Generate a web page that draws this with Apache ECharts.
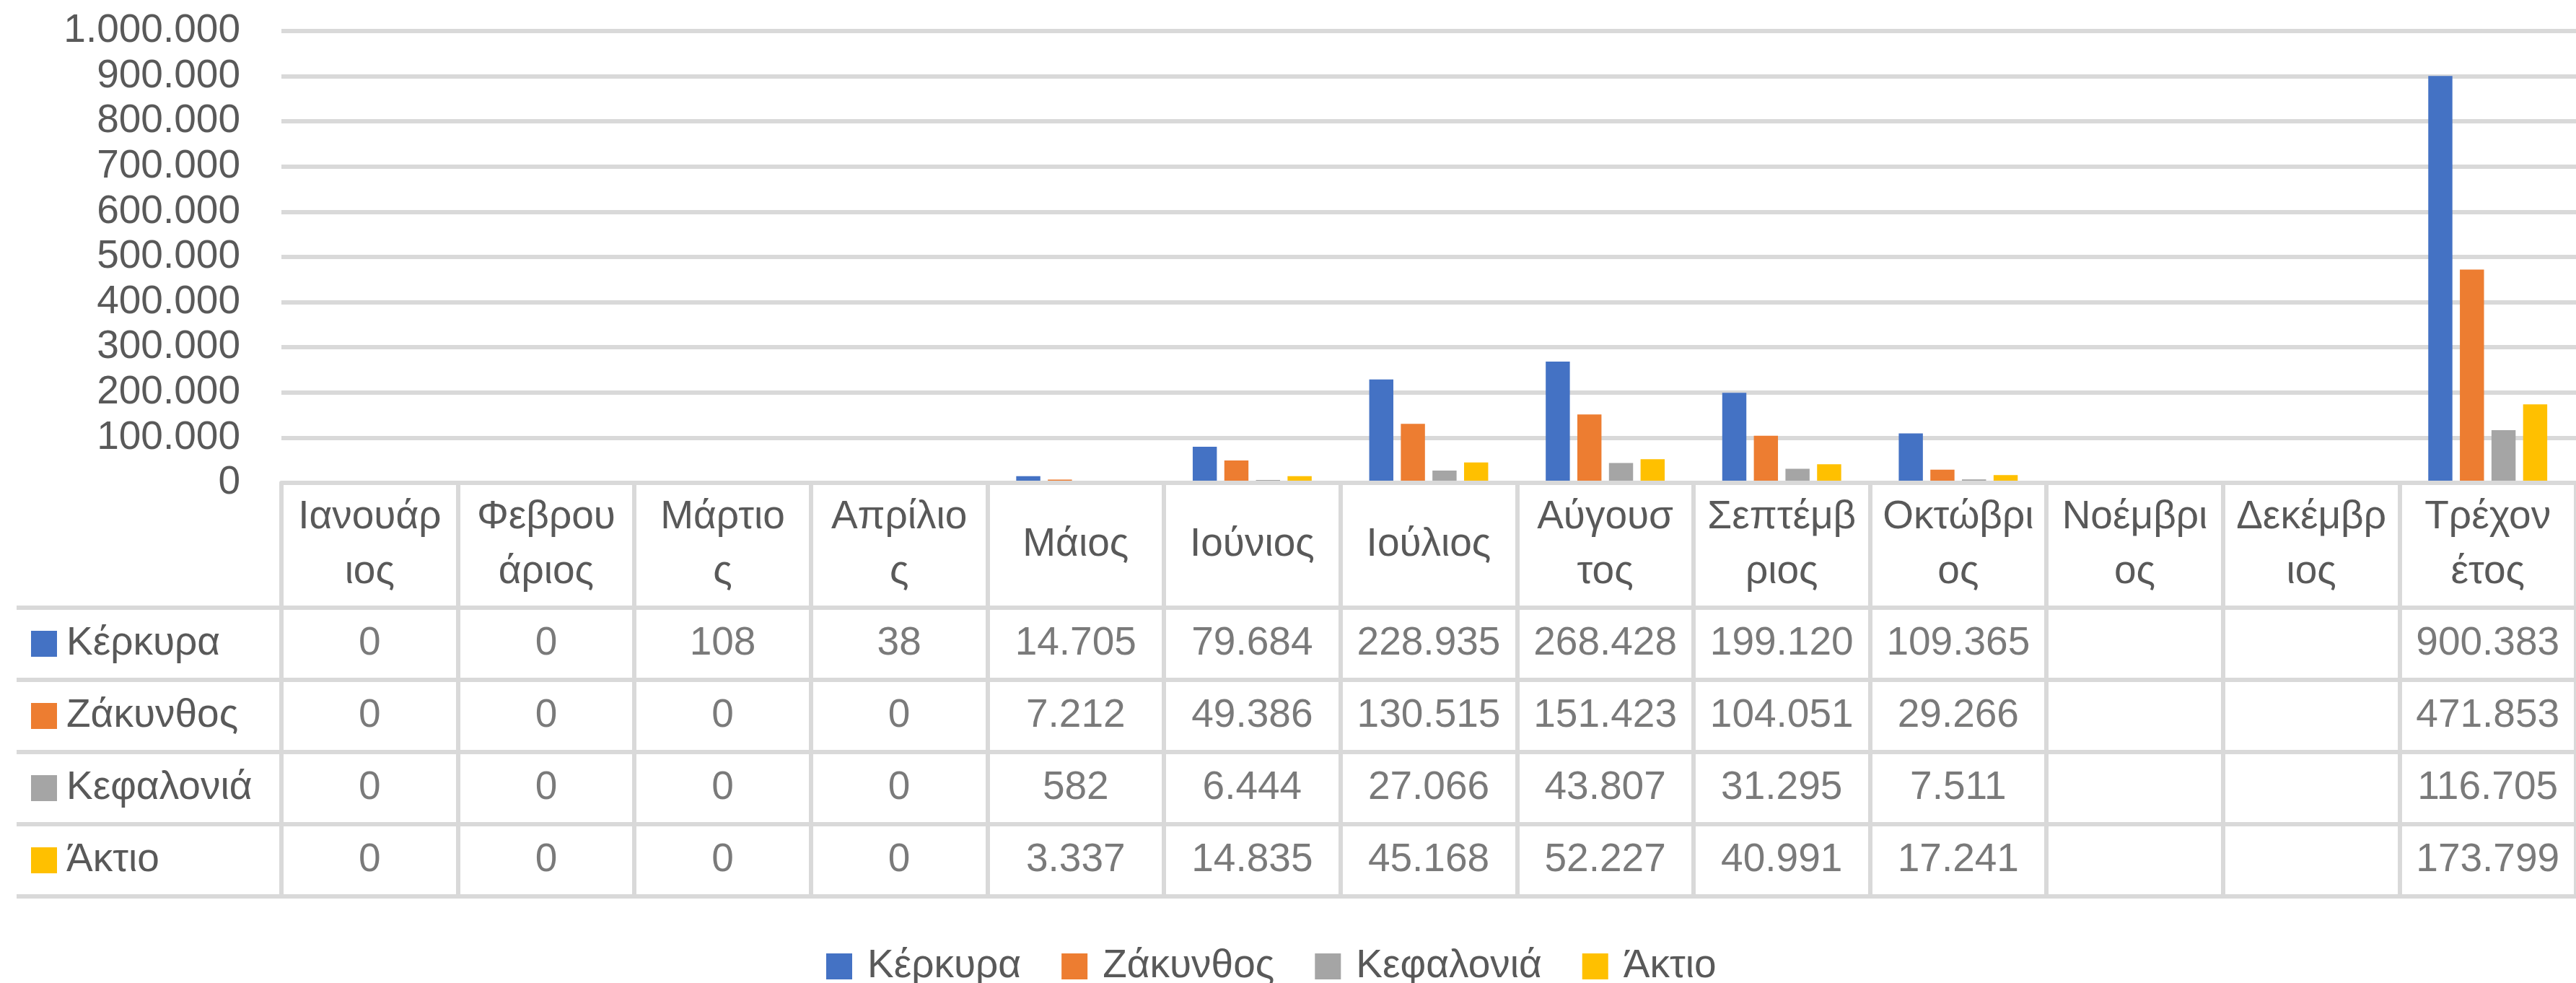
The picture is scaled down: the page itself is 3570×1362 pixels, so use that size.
<!DOCTYPE html>
<html>
<head>
<meta charset="utf-8">
<script src="https://cdn.jsdelivr.net/npm/echarts@6/dist/echarts.min.js"></script>
<style>
  html, body { margin: 0; padding: 0; background: #fff; }
  #chart { width: 3570px; height: 1362px; }
</style>
</head>
<body>
<div id="chart"></div>
<script>
// categories as they wrap in the table header
const months = [
  "Ιανουάρ\nιος", "Φεβρου\nάριος", "Μάρτιο\nς", "Απρίλιο\nς", "Μάιος", "Ιούνιος",
  "Ιούλιος", "Αύγουσ\nτος", "Σεπτέμβ\nριος", "Οκτώβρι\nος", "Νοέμβρι\nος",
  "Δεκέμβρ\nιος", "Τρέχον\nέτος"
];
const seriesNames = ["Κέρκυρα", "Ζάκυνθος", "Κεφαλονιά", "Άκτιο"];
const kerkyra   = [0, 0, 108, 38, 14705, 79684, 228935, 268428, 199120, 109365, null, null, 900383];
const zakynthos = [0, 0, 0, 0, 7212, 49386, 130515, 151423, 104051, 29266, null, null, 471853];
const kefalonia = [0, 0, 0, 0, 582, 6444, 27066, 43807, 31295, 7511, null, null, 116705];
const aktio     = [0, 0, 0, 0, 3337, 14835, 45168, 52227, 40991, 17241, null, null, 173799];
const yTicks = [0, 100000, 200000, 300000, 400000, 500000, 600000, 700000, 800000, 900000, 1000000];

const colors = ["#4472C4", "#ED7D31", "#A5A5A5", "#FFC000"];
const allValues = [kerkyra, zakynthos, kefalonia, aktio];

const FONT = "'Liberation Sans', Arial, sans-serif";
const TEXT = "#595959";
const LINE = "#D9D9D9";
const FS = 55;

// 1.000.000 style
const fmt = (v) => String(v).replace(/\B(?=(\d{3})+(?!\d))/g, ".");

const chart = echarts.init(document.getElementById("chart"));

// table cells: [column, row, value] (empty cells skipped)
const cells = [];
allValues.forEach((arr, r) => {
  arr.forEach((v, c) => {
    if (v != null) cells.push([c, r, v]);
  });
});

const rich = {};
seriesNames.forEach((n, i) => {
  rich["k" + i] = { width: 36, height: 36, backgroundColor: colors[i] };
});
rich.name = { fontSize: FS, fontFamily: FONT, color: TEXT, padding: [0, 0, 0, 13] };

const option = {
  animation: false,
  textStyle: { fontFamily: FONT },
  legend: {
    data: seriesNames,
    left: 1140,
    top: 1302,
    icon: "rect",
    itemWidth: 36,
    itemHeight: 36,
    itemGap: 56,
    textStyle: { fontSize: FS, color: TEXT, fontFamily: FONT, lineHeight: 64, padding: [0, 0, 0, 16] }
  },
  grid: [
    { left: 390, top: 43, width: 3185, height: 626 },
    { left: 390, top: 842, width: 3185, height: 400 }
  ],
  xAxis: [
    {
      gridIndex: 0,
      type: "category",
      data: months,
      z: 3, // axis line sits over the bar bottoms, as in Excel
      axisLine: { show: true, lineStyle: { color: LINE, width: 6 } },
      axisTick: { show: true, interval: 0, length: 173, lineStyle: { color: LINE, width: 6 } },
      axisLabel: {
        interval: 0,
        fontSize: FS,
        lineHeight: 76,
        color: TEXT,
        fontFamily: FONT,
        margin: 86,
        verticalAlign: "middle"
      },
      splitLine: { show: false }
    },
    {
      gridIndex: 1,
      type: "category",
      data: months,
      position: "bottom",
      axisLine: { show: true, lineStyle: { color: LINE, width: 6 } },
      axisTick: { show: false },
      axisLabel: { show: false },
      splitLine: { show: true, interval: 0, lineStyle: { color: LINE, width: 6 } }
    }
  ],
  yAxis: [
    {
      gridIndex: 0,
      type: "value",
      min: yTicks[0],
      max: yTicks[yTicks.length - 1],
      interval: yTicks[1] - yTicks[0],
      axisLine: { show: false },
      axisTick: { show: false },
      axisLabel: { fontSize: FS, color: TEXT, fontFamily: FONT, margin: 57, formatter: fmt },
      splitLine: { lineStyle: { color: LINE, width: 6 } }
    },
    {
      gridIndex: 1,
      type: "category",
      data: seriesNames,
      inverse: true,
      axisLine: { show: true, lineStyle: { color: LINE, width: 6 } },
      axisTick: { show: true, interval: 0, length: 367, lineStyle: { color: LINE, width: 6 } },
      axisLabel: {
        interval: 0,
        align: "left",
        margin: 347,
        formatter: (v, i) => "{k" + i + "|}{name|" + v + "}",
        rich: rich
      },
      splitLine: { show: true, interval: 0, lineStyle: { color: LINE, width: 6 } }
    },
    {
      gridIndex: 1,
      type: "category",
      data: seriesNames,
      inverse: true,
      offset: 367,
      axisLine: { show: true, lineStyle: { color: LINE, width: 6 } },
      axisTick: { show: false },
      axisLabel: { show: false },
      splitLine: { show: false }
    }
  ],
  series: [
    ...seriesNames.map((n, i) => ({
      name: n,
      type: "bar",
      xAxisIndex: 0,
      yAxisIndex: 0,
      data: allValues[i],
      itemStyle: { color: colors[i] },
      barCategoryGap: "32.6%",
      barGap: "31%"
    })),
    {
      name: "table",
      type: "scatter",
      xAxisIndex: 1,
      yAxisIndex: 1,
      symbol: "circle",
      symbolSize: 2,
      itemStyle: { color: "rgba(255,255,255,0)" },
      data: cells,
      labelLayout: { hideOverlap: false },
      label: {
        show: true,
        position: "inside",
        fontSize: FS,
        color: TEXT,
        fontFamily: FONT,
        formatter: (p) => fmt(p.value[2])
      }
    }
  ]
};

chart.setOption(option);
</script>
</body>
</html>
